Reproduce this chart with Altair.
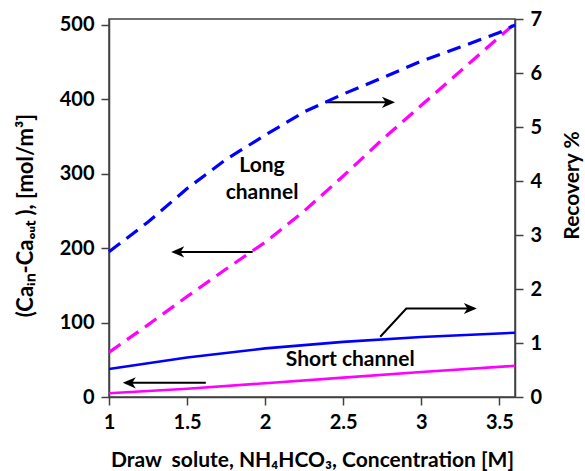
import altair as alt
import pandas as pd

# Draw solute concentration [M]
conc_long = [1, 1.25, 1.5, 1.75, 2, 2.25, 2.5, 2.75, 3, 3.25, 3.5, 3.6]
long_recovery = [2.69, 3.24, 3.86, 4.40, 4.85, 5.28, 5.61, 5.91, 6.22, 6.48, 6.75, 6.89]
long_removal = [60, 97, 135, 172, 208, 250, 297, 346, 392, 438, 484, 502]

conc_short = [1, 1.5, 2, 2.5, 3, 3.6]
short_recovery = [0.52, 0.73, 0.90, 1.02, 1.11, 1.19]
short_removal = [5, 11, 18.5, 26, 33.5, 42]

x_ticks = [1, 1.5, 2, 2.5, 3, 3.5]
left_ticks = [0, 100, 200, 300, 400, 500]
right_ticks = [0, 1, 2, 3, 4, 5, 6, 7]

# Arrow shafts (in left-axis units) and their heads
arrow_id = [0, 0, 1, 1, 2, 2, 2, 3, 3]
arrow_x = [2.385, 2.78, 1.92, 1.45, 2.737, 2.904, 3.30, 1.62, 1.14]
arrow_y = [396, 396, 195, 195, 81, 119, 119, 19, 19]
head_x = [2.79, 1.44, 3.314, 1.13]
head_y = [396, 195, 119, 19]
head_angle = [0, 180, 0, 180]

label_text = ["Long", "channel", "Short channel"]
label_x = [1.98, 1.98, 2.545]
label_y = [310, 274, 50]

FONT = "Lato"
BLUE = "#0000FF"
MAGENTA = "#FF00FF"
AXIS_GREY = "#404040"

long_df = pd.DataFrame({"conc": conc_long, "rec": long_recovery, "rem": long_removal})
short_df = pd.DataFrame({"conc": conc_short, "rec": short_recovery, "rem": short_removal})
arrow_df = pd.DataFrame({"id": arrow_id, "conc": arrow_x, "rem": arrow_y,
                         "o": list(range(len(arrow_x)))})
head_df = pd.DataFrame({"conc": head_x, "rem": head_y, "a": head_angle})
label_df = pd.DataFrame({"t": label_text, "conc": label_x, "rem": label_y})

x_scale = alt.Scale(domain=[1, 3.6], nice=False, zero=False)
yl_scale = alt.Scale(domain=[0, 508], nice=False)
yr_scale = alt.Scale(domain=[0, 7], nice=False)

common_axis = dict(
    labelFont=FONT, labelFontWeight="bold", labelFontSize=20, labelColor="black",
    titleFont=FONT, titleFontWeight="bold", titleColor="black",
    domainColor=AXIS_GREY, domainWidth=1.5, tickColor=AXIS_GREY, tickWidth=1.5,
    tickSize=8, grid=False, labelPadding=7,
)

x_axis = alt.Axis(
    values=x_ticks, format="~g",
    title="Draw \u00a0solute, NH\u2084HCO\u2083, Concentration [M]",
    titleFontSize=21, titleY=63, titleBaseline="middle", labelFlush=False, **common_axis,
)
yl_axis = alt.Axis(
    values=left_ticks, title="(Ca\u1d62\u2099-Ca\u2092\u1d64\u209c ), [mol/m\u00b3]",
    titleFontSize=22, titleAngle=270, titleX=-84, titleY=196,
    titleBaseline="middle", titleAlign="center", labelFlush=False, **common_axis,
)
yr_axis = alt.Axis(
    values=right_ticks, orient="right", title="Recovery %",
    titleFontSize=21, titleAngle=270, titleX=57, titleY=166,
    titleBaseline="middle", titleAlign="center", labelFlush=False, **common_axis,
)

XL = alt.X("conc:Q", scale=x_scale, axis=x_axis)
YL = alt.Y("rem:Q", scale=yl_scale, axis=yl_axis)
YR = alt.Y("rec:Q", scale=yr_scale, axis=yr_axis)

DASH = [14, 8]

# Removal (left axis), magenta
long_rem = alt.Chart(long_df).mark_line(
    color=MAGENTA, strokeWidth=3.2, strokeDash=DASH
).encode(x=XL, y=YL)
short_rem = alt.Chart(short_df).mark_line(
    color=MAGENTA, strokeWidth=2.6
).encode(x=XL, y=YL)

shafts = alt.Chart(arrow_df).mark_line(color="black", strokeWidth=2).encode(
    x=XL, y=YL, detail="id:N", order="o:Q",
)
heads = alt.Chart(head_df).mark_point(
    shape="M 1 0 L -1 -0.85 L -0.45 0 L -1 0.85 Z",
    filled=True, color="black", size=170, opacity=1,
).encode(x=XL, y=YL, angle=alt.Angle("a:Q", scale=None))
labels = alt.Chart(label_df).mark_text(
    font=FONT, fontWeight="bold", fontSize=21, color="black",
    align="center", baseline="middle",
).encode(x=XL, y=YL, text="t:N")

left = alt.layer(long_rem, short_rem, shafts, heads, labels)

# Recovery (right axis), blue
long_rec = alt.Chart(long_df).mark_line(
    color=BLUE, strokeWidth=3.2, strokeDash=DASH
).encode(x=XL, y=YR)
short_rec = alt.Chart(short_df).mark_line(
    color=BLUE, strokeWidth=2.6
).encode(x=XL, y=YR)

right = alt.layer(long_rec, short_rec)

chart = alt.layer(left, right).resolve_scale(y="independent").properties(
    width=406, height=378,
    autosize=alt.AutoSizeParams(type="none"),
    padding={"left": 109, "top": 19, "right": 70, "bottom": 74},
    background="white",
).configure_view(stroke=AXIS_GREY, strokeWidth=1.5)

chart.save("out.html", embed_options={"renderer": "svg", "actions": False})
